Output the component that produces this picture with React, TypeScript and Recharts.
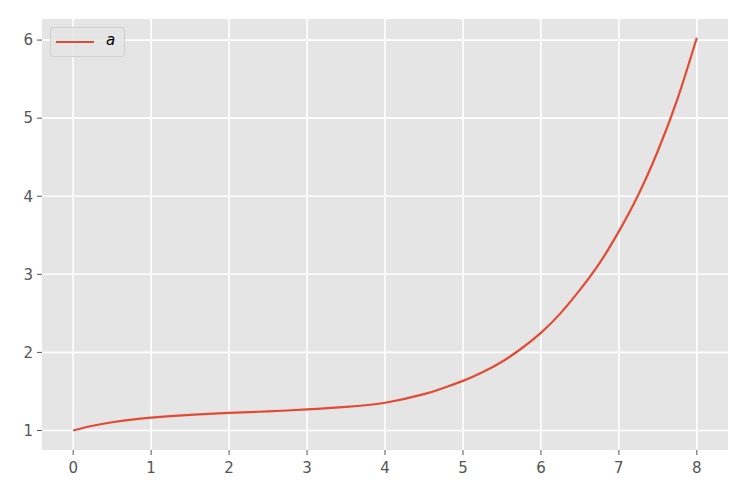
import React from 'react';
import { LineChart, Line, XAxis, YAxis, CartesianGrid } from 'recharts';

// curve
const xs = [0, 0.25, 0.5, 0.75, 1, 1.5, 2, 2.5, 3, 3.5, 4, 4.5, 4.75, 5, 5.25, 5.5, 5.75, 6, 6.25, 6.5, 6.75, 7, 7.25, 7.5, 7.75, 8];
const ys = [1.0, 1.06, 1.105, 1.14, 1.165, 1.2, 1.225, 1.245, 1.27, 1.302, 1.355, 1.465, 1.545, 1.635, 1.745, 1.88, 2.05, 2.25, 2.5, 2.8, 3.14, 3.55, 4.02, 4.58, 5.24, 6.03];
const xTicks = [0, 1, 2, 3, 4, 5, 6, 7, 8];
const yTicks = [1, 2, 3, 4, 5, 6];
const seriesName = 'a';

const data = xs.map((x, i) => ({ x, a: ys[i] }));

const FONT = '"DejaVu Sans", sans-serif';
const RED = '#E24A33';

const LegendBox = () => (
    <div
        style={{
            position: 'absolute',
            left: 50,
            top: 27,
            width: 75,
            height: 30,
            boxSizing: 'border-box',
            background: 'rgba(229,229,229,0.8)',
            border: '1px solid #d0d0d0',
            borderRadius: 3,
            fontFamily: FONT,
        }}
    >
        <div style={{ position: 'absolute', left: 5, top: 13, width: 38, height: 2, background: RED }} />
        <span style={{ position: 'absolute', left: 55, top: 3, fontSize: 15, fontStyle: 'italic', color: '#000' }}>
            {seriesName}
        </span>
    </div>
);

export default function App() {
    return (
        <div style={{ position: 'absolute', left: 0, top: 0, width: 747, height: 498, background: '#fff' }}>
            <LineChart width={747} height={498} data={data} margin={{ top: 19, right: 19, left: 12, bottom: 18 }}>
                <CartesianGrid stroke="#ffffff" strokeWidth={1.6} fill="#E5E5E5" horizontalValues={yTicks} verticalValues={xTicks} />
                <XAxis
                    dataKey="x"
                    type="number"
                    domain={[-0.4, 8.4]}
                    ticks={xTicks}
                    height={30}
                    axisLine={false}
                    tickSize={5}
                    tickMargin={7}
                    tickLine={{ stroke: '#555555', strokeWidth: 1 }}
                    tick={{ fill: '#555555', fontSize: 15, fontFamily: FONT }}
                />
                <YAxis
                    type="number"
                    domain={[0.75, 6.27]}
                    ticks={yTicks}
                    width={30}
                    axisLine={false}
                    tickSize={5}
                    tickMargin={4}
                    tickLine={{ stroke: '#555555', strokeWidth: 1 }}
                    tick={{ fill: '#555555', fontSize: 15, fontFamily: FONT }}
                />
                <Line
                    type="natural"
                    dataKey="a"
                    name={seriesName}
                    stroke={RED}
                    strokeWidth={2.2}
                    dot={false}
                    isAnimationActive={false}
                />
            </LineChart>
            <LegendBox />
        </div>
    );
}
